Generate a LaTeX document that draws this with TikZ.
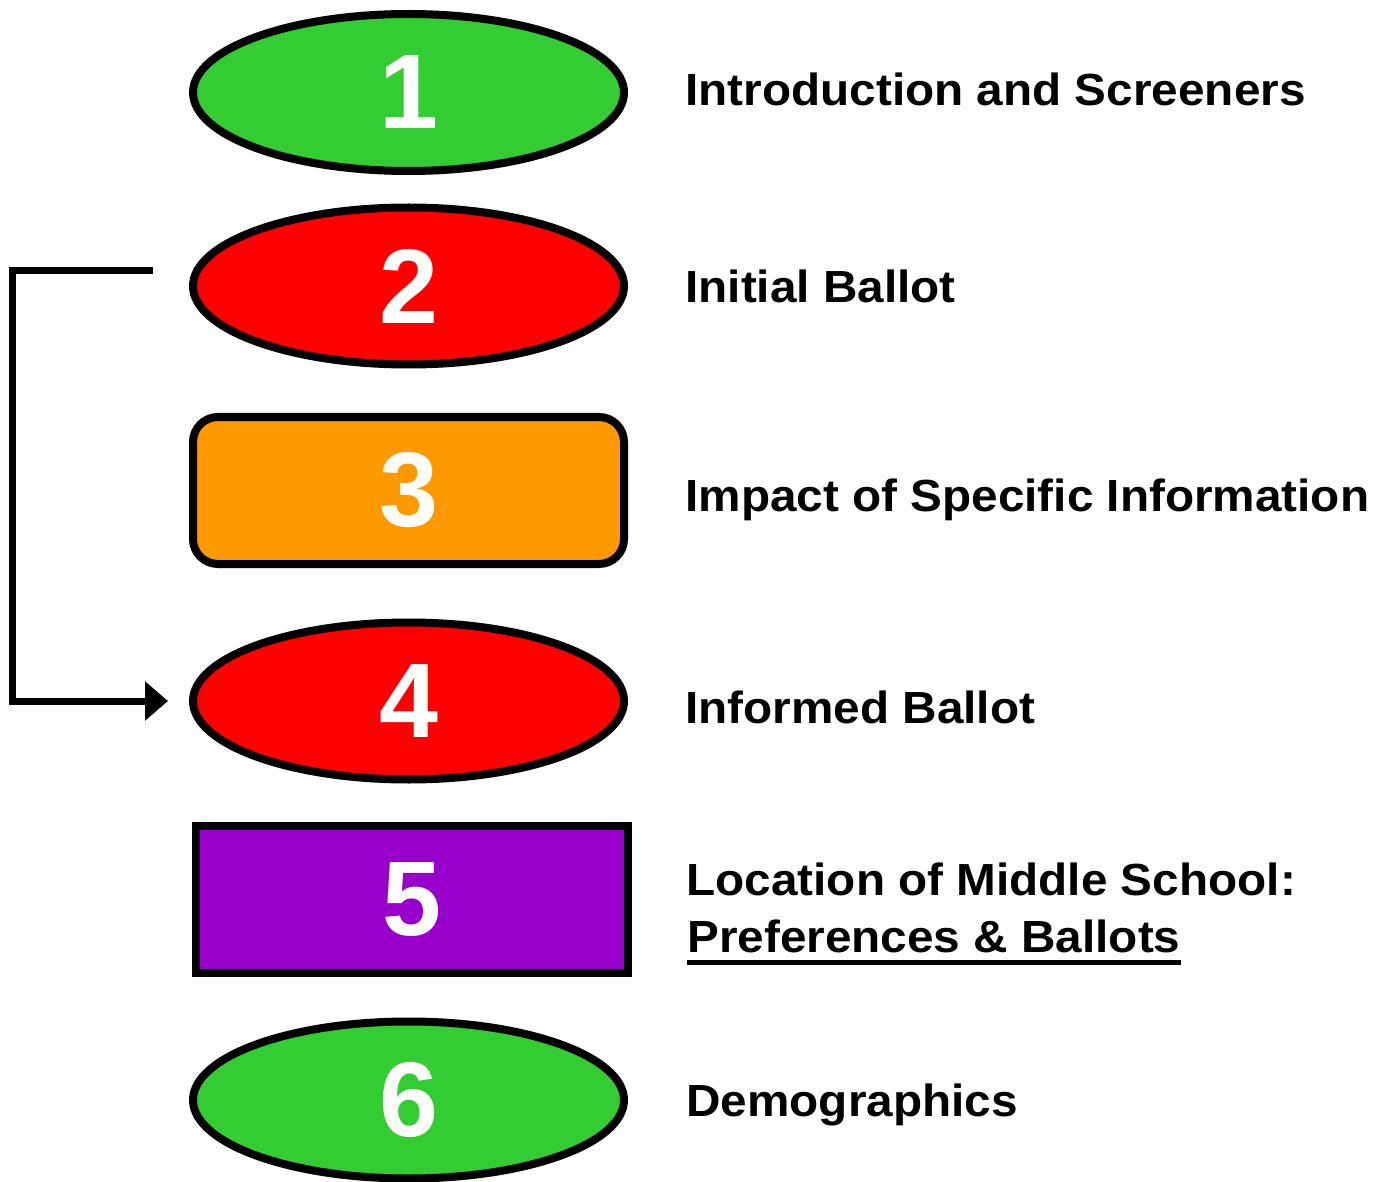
\documentclass[tikz,border=0pt]{standalone}
\usepackage{fontspec}
\usepackage{graphicx}
\setmainfont{Liberation Sans}
\usetikzlibrary{shapes.geometric,arrows.meta}
\definecolor{stepgreen}{HTML}{33CC33}
\definecolor{stepred}{HTML}{FF0000}
\definecolor{steporange}{HTML}{FF9900}
\definecolor{steppurple}{HTML}{9900CC}
\newcommand{\widetxt}[1]{\scalebox{1.06}[1]{#1}}
\tikzset{
  numtext/.style={text=white,font=\fontsize{53pt}{60pt}\selectfont\bfseries},
  ovalbox/.style={ellipse,draw=black,line width=4pt,inner sep=0pt,minimum width=215.5pt,minimum height=78.5pt,numtext},
  roundbox/.style={rectangle,rounded corners=12.5pt,draw=black,line width=4pt,inner sep=0pt,minimum width=215.5pt,minimum height=73.5pt,numtext},
  squarebox/.style={rectangle,draw=black,line width=4pt,inner sep=0pt,minimum width=216pt,minimum height=73.5pt,numtext},
  lbl/.style={anchor=base west,inner sep=0pt,font=\fontsize{22.5pt}{27pt}\selectfont\bfseries},
  conn/.style={line width=3.5pt,line join=miter,-{Triangle[length=11.5pt,width=19pt]}}
}
\begin{document}
\begin{tikzpicture}[x=0.5pt,y=-0.5pt]
\useasboundingbox (0,0) rectangle (1377,1182);
\node[ovalbox,fill=stepgreen] (e1) at (408.5,92.5) {1};
\node[ovalbox,fill=stepred] (e2) at (408.5,286) {2};
\node[roundbox,fill=steporange] (r3) at (408.5,490.5) {3};
\node[ovalbox,fill=stepred] (e4) at (408.5,701) {4};
\node[squarebox,fill=steppurple] (r5) at (412,899.5) {5};
\node[ovalbox,fill=stepgreen] (e6) at (408.5,1100) {6};

\node[lbl] (l1) at (685,106) {\widetxt{Introduction and Screeners}};
\node[lbl] (l2) at (685,303) {\widetxt{Initial Ballot}};
\node[lbl] (l3) at (685,511) {\widetxt{Impact of Specific Information}};
\node[lbl] (l4) at (685,723) {\widetxt{Informed Ballot}};
\node[lbl] (l5a) at (686,895) {\widetxt{Location of Middle School:}};
\node[lbl] (l5b) at (687,952) {\widetxt{Preferences \& Ballots}};
\node[lbl] (l6) at (686,1116) {\widetxt{Demographics}};

\draw[line width=2.5pt] ([yshift=-5pt]l5b.base west) -- ([yshift=-5pt]l5b.base east);

\coordinate (fb) at ([xshift=-18pt,yshift=7.5pt]e2.west);
\draw[conn] (fb) -- ++(-70.5pt,0) |- ([xshift=-10.5pt]e4.west);
\end{tikzpicture}
\end{document}
